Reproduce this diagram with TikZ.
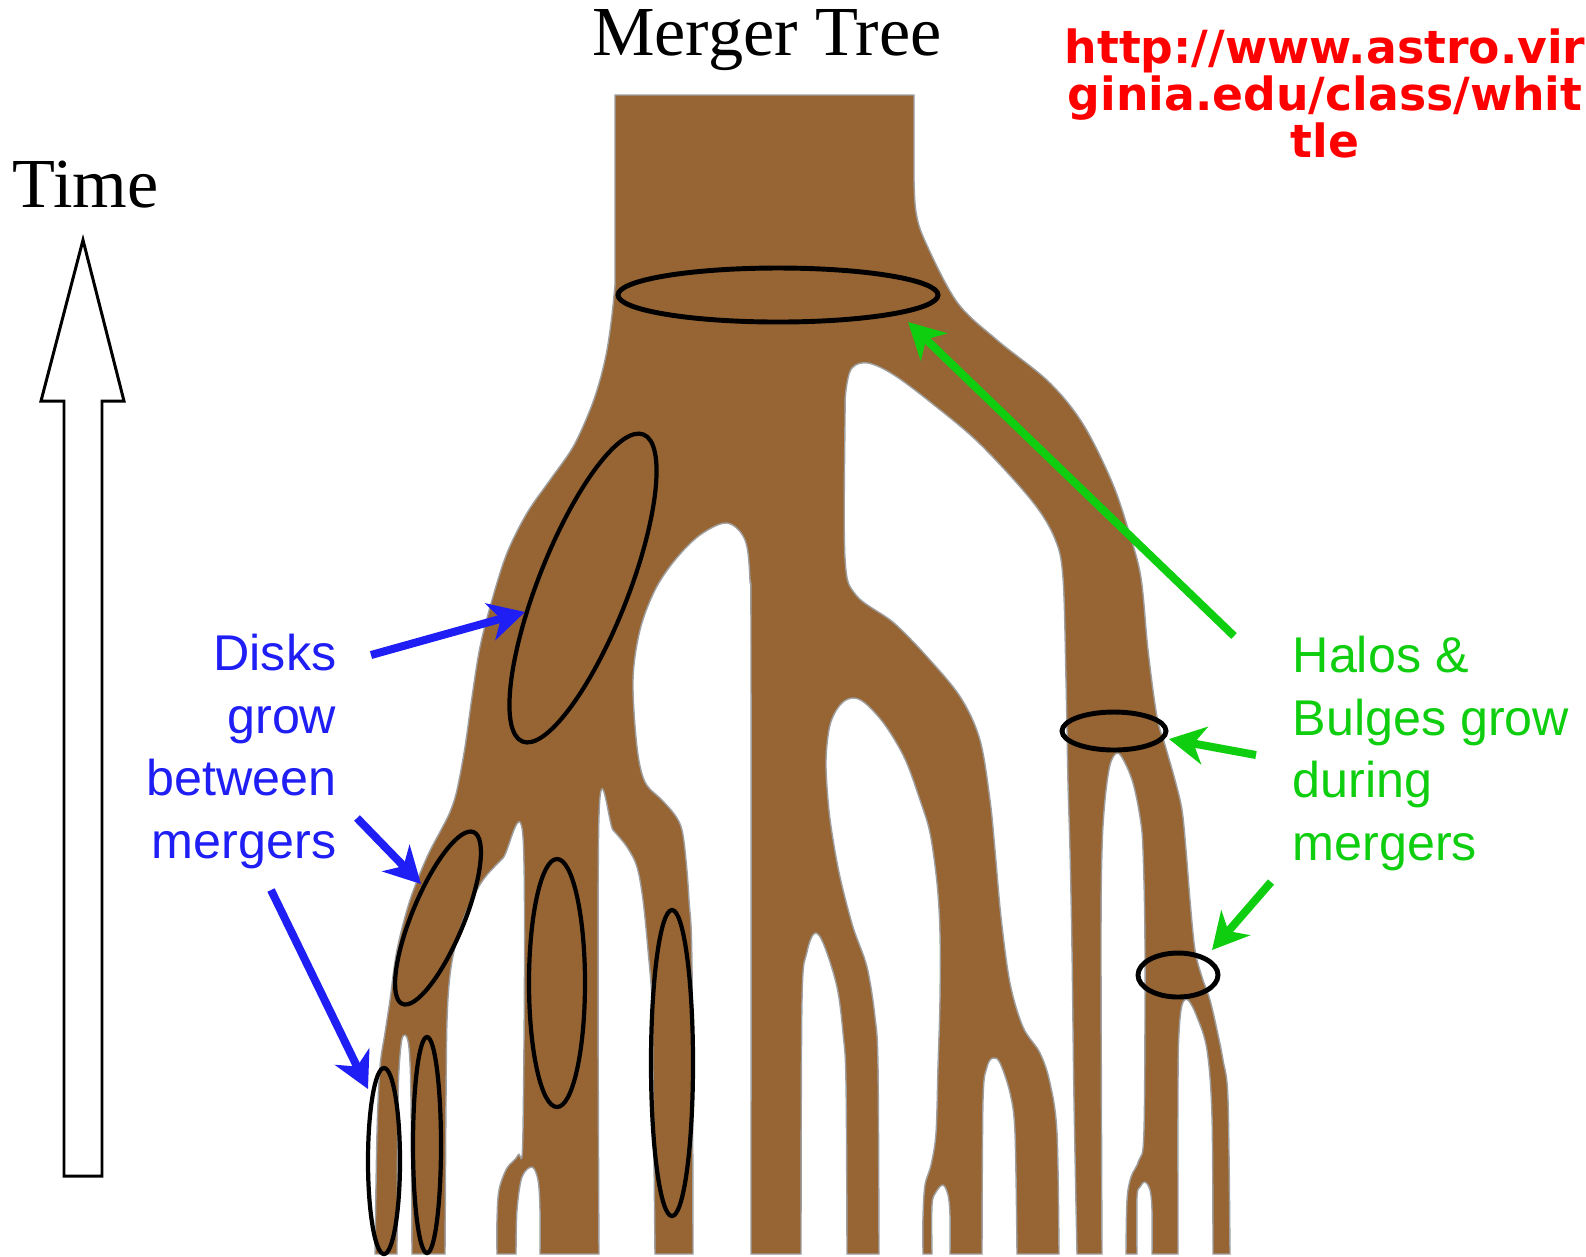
\documentclass[tikz,border=0pt]{standalone}
\usepackage{fontspec}
\setmainfont{Liberation Serif}
\setsansfont{Liberation Sans}
\newfontfamily\linkfont{DejaVu Sans}
\usetikzlibrary{arrows.meta}

\definecolor{treebrown}{RGB}{150,101,51}
\definecolor{diskblue}{RGB}{30,30,245}
\definecolor{halogreen}{RGB}{15,205,15}
\definecolor{linkred}{RGB}{255,0,0}

\begin{document}
\begin{tikzpicture}[x=0.1mm, y=-0.1mm,
        bark/.style={fill=treebrown, draw=gray!75, line width=0.4pt}, % the whole tree is one filled outline
        smoothrun/.style={smooth, tension=0.55},
        diskring/.style={draw=black, line width=1.2pt},
        haloring/.style={draw=black, line width=1.4pt},
        diskarrow/.style={draw=diskblue, line width=0.8mm, -{Stealth[length=3.6mm, width=3.8mm, inset=1.1mm]}},
        haloarrow/.style={draw=halogreen, line width=0.8mm, -{Stealth[length=3.6mm, width=3.8mm, inset=1.1mm]}},
        heading/.style={inner sep=0, font=\fontsize{20}{24}\selectfont},
        disklabel/.style={inner sep=0, text=diskblue, align=right, font=\sffamily\fontsize{14.3}{17.9}\selectfont},
        halolabel/.style={inner sep=0, text=halogreen, align=left, font=\sffamily\fontsize{14.3}{17.9}\selectfont},
        weblink/.style={inner sep=0, text=linkred, align=center, font=\linkfont\bfseries\fontsize{13}{13.4}\selectfont},
        timearrow/.style={draw=black, fill=white, line width=0.85pt, line join=miter},
    ]
    \useasboundingbox (0,0) rectangle (1586,1256);

    % trunk, branches and twigs, traced left edge -> top -> right edge -> back along the bottom
    \filldraw[bark] (375,1254)
        -- plot[smoothrun] coordinates {(375,1254) (377,1133) (380,1067) (385,1033) (390,1000) (397,950) (410,900) (427,857) (441,830) (450,812) (457,790) (465,747) (472,697) (480,647) (492,600) (507,553) (527,513) (550,480) (573,447) (590,410) (600,380) (607,350) (612,315) (615,285)}
        -- (615,95) -- (914,95) -- (914,180)
        -- plot[smoothrun] coordinates {(914,180) (916,212) (925,241) (957,302) (997,340) (1049,382) (1083,424) (1112,482) (1129,532) (1141,578) (1148,650) (1157,717) (1165,745) (1175,780) (1182,810) (1186,850) (1190,900) (1195,950) (1202,977) (1210,1000) (1217,1030) (1223,1060) (1228,1100) (1230,1254)}
        -- (1213,1254)
        -- plot[smoothrun] coordinates {(1213,1254) (1212,1117) (1207,1050) (1197,1017) (1188,1000) (1182,1005) (1179,1033) (1178,1083) (1178,1254)}
        -- (1152,1254)
        -- plot[smoothrun] coordinates {(1152,1254) (1152,1210) (1150,1190) (1145,1182) (1140,1187) (1137,1197) (1137,1254)}
        -- (1126,1254)
        -- plot[smoothrun] coordinates {(1126,1254) (1127,1200) (1131,1177) (1139,1160) (1144,1130) (1145,950) (1143,850) (1140,817) (1133,783) (1124,761) (1117,753) (1110,765) (1105,800) (1102,850) (1101,950) (1102,1254)}
        -- (1077,1254)
        -- plot[smoothrun] coordinates {(1077,1254) (1074,1100) (1072,950) (1070,850) (1068,783) (1066,680) (1063,578) (1055,539) (1032,501) (980,444) (934,405) (894,375) (868,363) (852,368) (846,390) (845,420) (845,558) (856,595) (894,623) (930,660) (961,698) (980,740) (990,800) (995,850) (1001,917) (1010,983) (1023,1027) (1040,1053) (1050,1083) (1057,1133) (1059,1254)}
        -- (1017,1254)
        -- plot[smoothrun] coordinates {(1017,1254) (1015,1133) (1010,1093) (1000,1063) (993,1058) (987,1067) (983,1100) (982,1254)}
        -- (950,1254)
        -- plot[smoothrun] coordinates {(950,1254) (950,1215) (948,1195) (943,1185) (936,1192) (932,1205) (932,1254)}
        -- (923,1254)
        -- plot[smoothrun] coordinates {(923,1254) (923,1217) (925,1185) (931,1165) (936,1133) (938,1067) (940,1000) (940,933) (937,883) (930,833) (920,800) (905,759) (885,725) (865,703) (852,698) (840,705) (830,725) (826,760) (828,800) (832,833) (840,877) (853,927) (867,967) (875,1017) (878,1067) (879,1254)}
        -- (847,1254)
        -- plot[smoothrun] coordinates {(847,1254) (846,1083) (843,1033) (837,987) (824,945) (815,933) (807,952) (802,1000) (801,1254)}
        -- (751,1254)
        -- plot[smoothrun] coordinates {(751,1254) (751,650) (750,580) (745,540) (727,523) (700,535) (675,560) (655,590) (640,630) (633,680) (637,747) (645,782) (662,800) (675,815) (682,830) (686,860) (689,900) (692,967) (693,1254)}
        -- (655,1254)
        -- plot[smoothrun] coordinates {(655,1254) (653,1067) (652,1000) (648,950) (643,900) (637,867) (627,847) (613,830) (599,815) (599,1254)}
        -- (540,1254)
        -- plot[smoothrun] coordinates {(540,1254) (540,1210) (538,1180) (532,1167) (522,1177) (517,1210) (516,1254)}
        -- (497,1254)
        -- plot[smoothrun] coordinates {(497,1254) (497,1220) (499,1190) (507,1168) (518,1155) (523,1130) (523,837) (503,858) (483,880) (467,910) (456,943) (450,975) (447,1020) (446,1100) (445,1254)}
        -- (412,1254)
        -- plot[smoothrun] coordinates {(412,1254) (411,1100) (409,1048) (405,1035) (401,1045) (398,1100) (397,1254)}
        -- cycle;

    % rings on the branches
    \draw[haloring] (778,295) ellipse [x radius=160, y radius=27];
    \draw[haloring] (1114,731) ellipse [x radius=52, y radius=19];
    \draw[haloring] (1178,975) ellipse [x radius=40, y radius=22];
    \draw[diskring] (583,588) ellipse [x radius=165, y radius=45, rotate=68.5];
    \draw[diskring] (438,918) ellipse [x radius=93, y radius=26, rotate=67.5];
    \draw[diskring] (384,1161) ellipse [x radius=16, y radius=93];
    \draw[diskring] (427,1145) ellipse [x radius=14, y radius=108];
    \draw[diskring] (557,983) ellipse [x radius=28, y radius=124];
    \draw[diskring] (672,1063) ellipse [x radius=21, y radius=153];

    % time axis
    \draw[timearrow] (64,1176) -- (64,401) -- (41,401) -- (83,240) -- (124,401) -- (102,401) -- (102,1176) -- cycle;

    \node (title) [heading, anchor=base] at (767,55) {Merger Tree};
    \node (time) [heading, anchor=base west] at (12,207) {Time};
    \node (disks) [disklabel, anchor=north east] at (337,633) {Disks\\grow\\between\\mergers};
    \node (halos) [halolabel, anchor=north west] at (1292,635) {Halos \&\\Bulges grow\\during\\mergers};
    \node (link) [weblink, anchor=north] at (1325,28) {http://www.astro.vir\\ginia.edu/class/whit\\tle};

    % arrow ends
    \coordinate (d1) at (371,655);   \coordinate (d1tip) at (525,612);
    \coordinate (d2) at (357,818);   \coordinate (d2tip) at (421,884);
    \coordinate (d3) at (271,890);   \coordinate (d3tip) at (368,1089);
    \coordinate (h1) at (1234,636);  \coordinate (h1tip) at (908,322);
    \coordinate (h2) at (1256,755);  \coordinate (h2tip) at (1169,739);
    \coordinate (h3) at (1271,882);  \coordinate (h3tip) at (1212,950);

    \draw
        (d1) edge[diskarrow] (d1tip)
        (d2) edge[diskarrow] (d2tip)
        (d3) edge[diskarrow] (d3tip)

        (h1) edge[haloarrow] (h1tip)
        (h2) edge[haloarrow] (h2tip)
        (h3) edge[haloarrow] (h3tip);
\end{tikzpicture}
\end{document}
